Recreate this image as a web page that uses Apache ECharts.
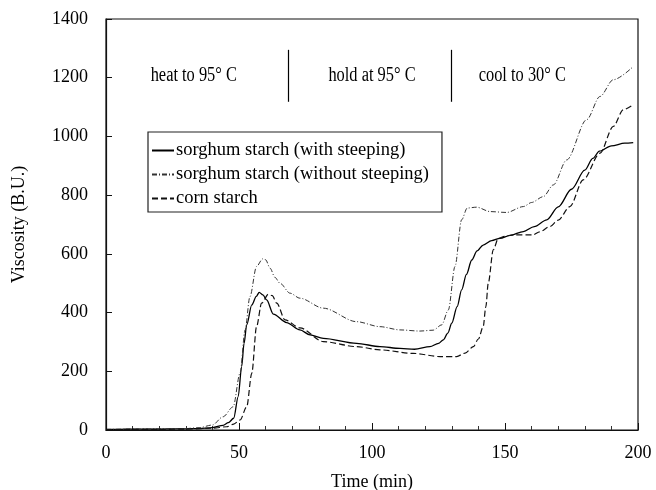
<!DOCTYPE html>
<html>
<head>
<meta charset="utf-8">
<script src="https://cdn.jsdelivr.net/npm/echarts@6/dist/echarts.min.js"></script>
<style>html,body{margin:0;padding:0;background:#fff}#c{width:656px;height:490px}</style>
</head>
<body>
<div id="c"></div>
<script>
// ---- data (time in min, viscosity in B.U.) ----
var withT = [0,10,20,30,35,40,44,46,48,49.7,51,51.9,52.9,54.8,56.5,57.6,59,60.4,62.9,67.9,72.9,76.7,81.7,94.2,103,110.5,116,121.8,125,126.8,128.5,130,132,133.7,135.5,137.5,139.5,141.8,145,148.1,152,156.9,161,165.7,170,175,180,183,185.5,190,195,198.2];
var withV = [2,3,3,4,5,8,16,25,40,114,216,295,358,426,455,469,460,443,395,366,341,324,312,295,284,278,275,284,295,307,330,364,420,477,530,579,610,630,645,653,663,676,693,716,760,820,885,925,950,968,977,979];

var withoutT = [0,10,20,30,35,40,44,47.8,50.4,52.3,54.1,56.6,58.9,60,61.7,63.5,65.4,69.2,72.9,81.7,94.2,103,110.5,118,123,126.2,128.7,131.2,133.7,135.8,139.3,144.4,150.6,156.9,160,164.4,168.2,173.2,180.7,185.7,190.7,198.2];
var withoutV = [2,3,4,5,8,17,45,79,194,341,454,557,583,580,551,520,500,466,449,415,369,352,341,337,340,358,409,557,716,756,759,744,741,761,775,795,835,920,1057,1136,1193,1238];

var cornT = [0,10,20,30,40,45.4,48,50.4,52.9,54.8,56.6,58.5,61,62.5,64.2,67.3,72.9,81.7,94.2,103,115.5,125.6,131.8,135,138.1,140,141.8,142.8,143.7,145.6,147.5,150,153.1,160.6,163,166.9,170,174.4,179.4,185.7,190.7,194.5,198.2];
var cornV = [1,2,2,3,6,11,20,34,79,193,352,432,462,458,432,375,348,301,284,273,261,250,250,262,284,310,352,420,500,614,653,660,665,665,675,693,715,761,852,943,1034,1091,1108];

var seriesNames = ['sorghum starch (with steeping)', 'sorghum starch (without steeping)', 'corn starch'];
var xTicks = [0, 50, 100, 150, 200];
var yTicks = [0, 200, 400, 600, 800, 1000, 1200, 1400];

// stage annotations
var stageLabels = ['heat to 95° C', 'hold at 95° C', 'cool to 30° C'];
var stageLabelX = [33, 100, 156.5];
var stageLabelY = 1205;
var dividerX = [68.4, 129.7];
var dividerY = [1118, 1295];

function pairs(t, v) { return t.map(function (x, i) { return [x, v[i]]; }); }

var font = 'Liberation Serif';
var chart = echarts.init(document.getElementById('c'), null, {renderer: 'canvas'});

var option = {
  animation: false,
  backgroundColor: '#fff',
  grid: {left: 106, right: 18, top: 19, bottom: 60, show: true, borderColor: '#111', borderWidth: 1.2, backgroundColor: 'transparent', containLabel: false, outerBoundsMode: 'none'},
  xAxis: {
    type: 'value', min: xTicks[0], max: xTicks[xTicks.length - 1], interval: 50,
    name: 'Time (min)', nameLocation: 'middle', nameGap: 43,
    nameTextStyle: {fontFamily: font, fontSize: 18, color: '#000'},
    axisLine: {show: true, lineStyle: {color: '#111', width: 1.2}},
    axisTick: {show: true, inside: true, length: 7, lineStyle: {color: '#111'}},
    minorTick: {show: true, splitNumber: 5, length: 4, lineStyle: {color: '#333'}},
    axisLabel: {fontFamily: font, fontSize: 18, color: '#000', margin: 14, formatter: function (v) { return String(v); }},
    splitLine: {show: false}
  },
  yAxis: {
    type: 'value', min: yTicks[0], max: yTicks[yTicks.length - 1], interval: 200,
    name: 'Viscosity (B.U.)', nameLocation: 'middle', nameGap: 78,
    nameTextStyle: {fontFamily: font, fontSize: 18, color: '#000'},
    axisLine: {show: true, lineStyle: {color: '#111', width: 1.2}},
    axisTick: {show: true, inside: true, length: 6, lineStyle: {color: '#111'}},
    axisLabel: {fontFamily: font, fontSize: 18, color: '#000', margin: 18, formatter: function (v) { return String(v); }},
    splitLine: {show: false}
  },
  legend: {
    orient: 'vertical', left: 148, top: 132,
    itemWidth: 22, itemHeight: 12, itemGap: 5,
    padding: [9, 13, 4, 3],
    borderColor: '#222', borderWidth: 1.2, backgroundColor: '#fff',
    itemStyle: {opacity: 0, borderWidth: 0},
    textStyle: {fontFamily: font, fontSize: 18.5, color: '#000', padding: [0, 0, 0, -3]},
    data: seriesNames
  },
  series: [
    {
      name: seriesNames[0], type: 'line', data: pairs(withT, withV),
      showSymbol: false, symbol: 'none', smooth: 0.3, smoothMonotone: 'x',
      lineStyle: {color: '#000', width: 1.3, type: 'solid'}, itemStyle: {color: '#000'},
      markLine: {
        silent: true, symbol: 'none', label: {show: false},
        lineStyle: {color: '#000', width: 1.2, type: 'solid'},
        data: dividerX.map(function (x) { return [{coord: [x, dividerY[0]]}, {coord: [x, dividerY[1]]}]; })
      }
    },
    {
      name: seriesNames[1], type: 'line', data: pairs(withoutT, withoutV),
      showSymbol: false, symbol: 'none', smooth: 0.3, smoothMonotone: 'x',
      lineStyle: {color: '#333', width: 1, type: [5, 2, 1, 2]}, itemStyle: {color: '#333'}
    },
    {
      name: seriesNames[2], type: 'line', data: pairs(cornT, cornV),
      showSymbol: false, symbol: 'none', smooth: 0.3, smoothMonotone: 'x',
      lineStyle: {color: '#111', width: 1.2, type: [6, 3]}, itemStyle: {color: '#111'}
    }
  ]
};
chart.setOption(option);

// stage texts placed at data coordinates
var g = stageLabels.map(function (s, i) {
  var p = chart.convertToPixel({gridIndex: 0}, [stageLabelX[i], stageLabelY]);
  return {
    type: 'text', x: p[0], y: p[1], scaleX: 0.82, z: 10,
    style: {text: s, font: '20px "' + font + '"', fill: '#000', align: 'center', verticalAlign: 'middle'}
  };
});
chart.setOption({graphic: g});
</script>
</body>
</html>
